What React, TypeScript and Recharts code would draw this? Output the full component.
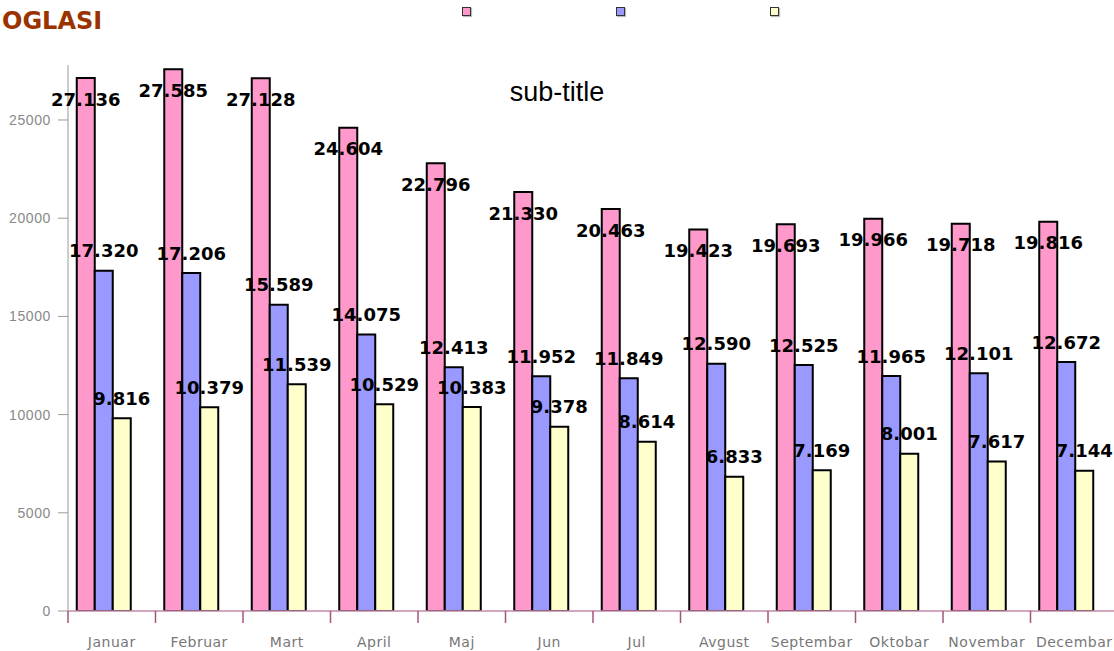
import React from "react";
import { BarChart, Bar, XAxis, YAxis, LabelList } from "recharts";

const months = ["Januar", "Februar", "Mart", "April", "Maj", "Jun", "Jul", "Avgust", "Septembar", "Oktobar", "Novembar", "Decembar"];
const series1 = [27136, 27585, 27128, 24604, 22796, 21330, 20463, 19423, 19693, 19966, 19718, 19816];
const series2 = [17320, 17206, 15589, 14075, 12413, 11952, 11849, 12590, 12525, 11965, 12101, 12672];
const series3 = [9816, 10379, 11539, 10529, 10383, 9378, 8614, 6833, 7169, 8001, 7617, 7144];
const yTicks = [0, 5000, 10000, 15000, 20000, 25000];
const seriesColors = ["#FF99CC", "#9999FF", "#FFFFCC"];

const data = months.map((m, i) => ({ month: m, s1: series1[i], s2: series2[i], s3: series3[i] }));

const CHART_W = 1120;
const CHART_H = 651;
const Y_W = 68;
const MARGIN = { top: 65, right: 2, left: 0, bottom: 0 };
const PLOT_W = CHART_W - MARGIN.left - MARGIN.right - Y_W;
const BAND = PLOT_W / months.length;

const COMIC = "'Comic Sans MS', 'DejaVu Sans', sans-serif";

const fmt = (v: number) => {
  const s = String(Math.round(v));
  return s.replace(/\B(?=(\d{3})+(?!\d))/g, ".");
};

const XTick = (props: any) => {
  const { x, y, payload } = props;
  const bx = x - BAND / 2;
  return (
    <g>
      <line x1={bx} y1={y} x2={bx} y2={y + 12} stroke="#a8507e" strokeWidth={1.5} />
      <text
        x={x}
        y={y + 31}
        textAnchor="middle"
        dominantBaseline="central"
        fill="#777"
        fontFamily={COMIC}
        fontSize={14}
        letterSpacing={0.5}
      >
        {payload.value}
      </text>
    </g>
  );
};

const makeLabel = (dy: number) => (props: any) => {
  const { x, y, width, value } = props;
  if (value == null) return null;
  return (
    <text
      x={x + width / 2}
      y={y + dy}
      textAnchor="middle"
      dominantBaseline="central"
      fill="#000"
      fontFamily={COMIC}
      fontWeight="bold"
      fontSize={18}
    >
      {fmt(value)}
    </text>
  );
};

export default function App() {
  const legendX = [466, 620, 774];
  return (
    <div style={{ position: "absolute", left: 0, top: 0, width: 1114, height: 651, overflow: "hidden", background: "#fff" }}>
      <div
        style={{
          position: "absolute",
          left: 2,
          top: 6,
          fontFamily: COMIC,
          fontWeight: "bold",
          fontSize: 24,
          lineHeight: "30px",
          color: "#993300",
        }}
      >
        OGLASI
      </div>
      <div
        style={{
          position: "absolute",
          left: 0,
          width: 1114,
          top: 76,
          textAlign: "center",
          fontFamily: "'Liberation Sans', Arial, sans-serif",
          fontSize: 27,
          lineHeight: "32px",
          color: "#000",
        }}
      >
        sub-title
      </div>
      {seriesColors.map((c, i) => (
        <div
          key={i}
          style={{
            position: "absolute",
            left: legendX[i] - 4,
            top: 7,
            width: 7,
            height: 7,
            background: c,
            border: "1px solid #333",
            boxShadow: "1px 1px 1px #bbb",
          }}
        />
      ))}
      <div style={{ position: "absolute", left: 0, top: 0 }}>
        <BarChart width={CHART_W} height={CHART_H} data={data} margin={MARGIN} barCategoryGap="10%" barGap={0}>
          <XAxis
            dataKey="month"
            height={40}
            axisLine={{ stroke: "#c58aa8", strokeWidth: 1.5 }}
            tickLine={false}
            tickSize={0}
            tickMargin={0}
            tick={<XTick />}
            interval={0}
          />
          <YAxis
            width={Y_W}
            domain={[0, 27800]}
            ticks={yTicks}
            allowDataOverflow
            axisLine={{ stroke: "#bbb", strokeWidth: 1.5 }}
            tickLine={{ stroke: "#999" }}
            tickSize={10}
            tickMargin={7}
            tick={{ fill: "#888", fontSize: 14, fontFamily: "'Liberation Sans', Arial, sans-serif", letterSpacing: 0.6 }}
          />
          <Bar dataKey="s1" fill={seriesColors[0]} stroke="#000" strokeWidth={2} isAnimationActive={false}>
            <LabelList dataKey="s1" content={makeLabel(21)} />
          </Bar>
          <Bar dataKey="s2" fill={seriesColors[1]} stroke="#000" strokeWidth={2} isAnimationActive={false}>
            <LabelList dataKey="s2" content={makeLabel(-20)} />
          </Bar>
          <Bar dataKey="s3" fill={seriesColors[2]} stroke="#000" strokeWidth={2} isAnimationActive={false}>
            <LabelList dataKey="s3" content={makeLabel(-20)} />
          </Bar>
          <Bar dataKey="spacer" legendType="none" isAnimationActive={false} />
        </BarChart>
      </div>
    </div>
  );
}
